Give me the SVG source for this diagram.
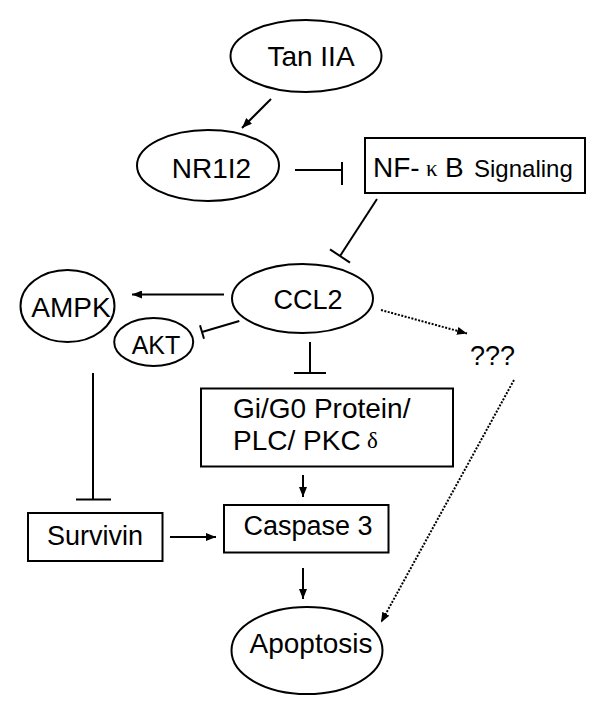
<svg xmlns="http://www.w3.org/2000/svg" width="600" height="709" viewBox="0 0 600 709">
<style>
.n{fill:#fff;stroke:#000;stroke-width:2}
.t{font-family:"Liberation Sans",Arial,sans-serif;fill:#000}
.c{text-anchor:middle}
.e{stroke:#000;stroke-width:2;fill:none}
.d{stroke:#000;stroke-width:2;fill:none;stroke-dasharray:2 1.5}
.g{font-family:"Liberation Serif","Times New Roman",serif}
</style>
<defs>
<marker id="arr" markerUnits="userSpaceOnUse" viewBox="0 0 10 8" refX="10" refY="4" markerWidth="10" markerHeight="8" orient="auto">
<path d="M0,0 L10,4 L0,8 z" fill="#000"/>
</marker>
</defs>
<rect width="600" height="709" fill="#fff"/>
<g id="connectors">
<line class="e" x1="271" y1="99" x2="242" y2="128" marker-end="url(#arr)"/>
<line class="e" x1="295" y1="170" x2="342" y2="170"/>
<line class="e" x1="342" y1="162" x2="342" y2="185"/>
<line class="e" x1="377" y1="199" x2="340" y2="256"/>
<line class="e" x1="330" y1="249.4" x2="350" y2="262.6"/>
<line class="e" x1="224" y1="294.5" x2="132" y2="294.5" marker-end="url(#arr)"/>
<line class="e" x1="239.3" y1="321" x2="202" y2="332"/>
<line class="e" x1="200" y1="325.3" x2="204" y2="338.7"/>
<line class="e" x1="310" y1="342" x2="310" y2="373"/>
<line class="e" x1="294" y1="373" x2="326" y2="373"/>
<line class="d" x1="381" y1="310" x2="467" y2="333.5" marker-end="url(#arr)"/>
<line class="d" x1="514" y1="380" x2="381" y2="622.5" marker-end="url(#arr)"/>
<line class="e" x1="93" y1="373" x2="93" y2="499.5"/>
<line class="e" x1="76" y1="499.5" x2="111" y2="499.5"/>
<line class="e" x1="170" y1="537" x2="216" y2="537" marker-end="url(#arr)"/>
<line class="e" x1="303" y1="475" x2="303" y2="497" marker-end="url(#arr)"/>
<line class="e" x1="303" y1="568" x2="303" y2="599" marker-end="url(#arr)"/>
</g>
<g id="tan">
<ellipse class="n" cx="306" cy="56" rx="75.5" ry="36"/>
<text class="t c" x="311" y="66" font-size="28">Tan IIA</text>
</g>
<g id="nr1i2">
<ellipse class="n" cx="208" cy="165.5" rx="71" ry="35.5"/>
<text class="t c" x="211.5" y="178" font-size="28">NR1I2</text>
</g>
<g id="nfkb">
<rect class="n" x="365" y="138" width="220" height="55"/>
<text class="t" y="177" font-size="28"><tspan x="373">NF-</tspan><tspan class="g" x="426" y="176" font-size="23">κ</tspan><tspan x="445" y="177">B</tspan><tspan x="474" font-size="24">Signaling</tspan></text>
</g>
<g id="ccl2">
<ellipse class="n" cx="302.5" cy="298.5" rx="70.5" ry="34.5"/>
<text class="t c" x="308" y="309" font-size="27">CCL2</text>
</g>
<g id="ampk">
<ellipse class="n" cx="67.5" cy="306" rx="47" ry="36"/>
<text class="t c" x="71" y="317" font-size="28">AMPK</text>
</g>
<g id="akt">
<ellipse class="n" cx="153.7" cy="342" rx="39.5" ry="24"/>
<text class="t c" x="156" y="354" font-size="25">AKT</text>
</g>
<g id="unknown">
<text class="t c" x="492.5" y="365" font-size="27">???</text>
</g>
<g id="gi">
<rect class="n" x="201" y="388.5" width="252" height="78"/>
<text class="t" x="233" y="418" font-size="28">Gi/G0 Protein/</text>
<text class="t" y="449.5" font-size="28"><tspan x="233">PLC/ PKC</tspan><tspan class="g" x="367" y="448" font-size="23">δ</tspan></text>
</g>
<g id="survivin">
<rect class="n" x="28" y="513" width="134.5" height="48"/>
<text class="t c" x="95" y="544.5" font-size="27">Survivin</text>
</g>
<g id="caspase">
<rect class="n" x="224" y="505" width="164.5" height="47.5"/>
<text class="t c" x="308" y="534.5" font-size="27">Caspase 3</text>
</g>
<g id="apoptosis">
<ellipse class="n" cx="307" cy="650.5" rx="75.5" ry="43.5"/>
<text class="t c" x="311" y="652.5" font-size="28">Apoptosis</text>
</g>
</svg>
